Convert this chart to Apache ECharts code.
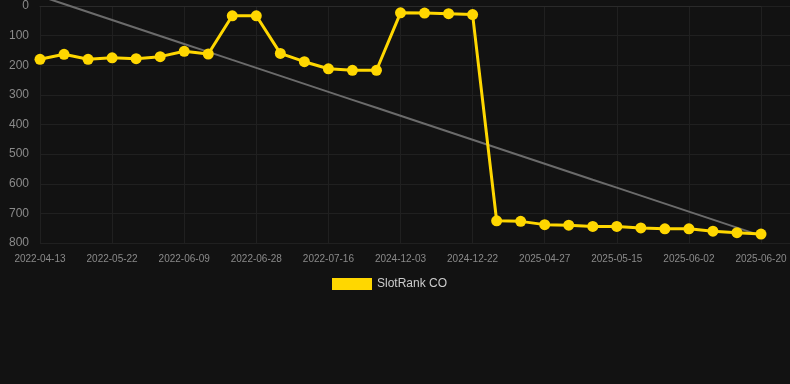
<!DOCTYPE html>
<html>
<head>
<meta charset="utf-8">
<script src="https://cdn.jsdelivr.net/npm/echarts@6/dist/echarts.min.js"></script>
<style>
html,body{margin:0;padding:0;background:#121212;}
#c{width:790px;height:384px;}
</style>
</head>
<body>
<div id="c"></div>
<script>
const categories = [
  '2022-04-13','2022-04-26','2022-05-09','2022-05-22','2022-05-28','2022-06-03',
  '2022-06-09','2022-06-15','2022-06-22','2022-06-28','2022-07-04','2022-07-10',
  '2022-07-16','2022-07-22','2022-07-28','2024-12-03','2024-12-09','2024-12-16',
  '2024-12-22','2025-04-15','2025-04-21','2025-04-27','2025-05-03','2025-05-09',
  '2025-05-15','2025-05-21','2025-05-27','2025-06-02','2025-06-08','2025-06-14',
  '2025-06-20'
];
const rankValues = [
  180,163,180,175,178,171,153,162,33,33,160,188,212,217,217,
  23,24,26,29,725,727,738,740,744,744,749,752,752,760,765,770
];
const seriesName = 'SlotRank CO';

// linear regression trend computed from the data
const n = rankValues.length;
let sx=0, sy=0, sxy=0, sxx=0;
rankValues.forEach((v,i)=>{sx+=i;sy+=v;sxy+=i*v;sxx+=i*i;});
const slope = (n*sxy - sx*sy)/(n*sxx - sx*sx);
const intercept = (sy - slope*sx)/n;
const trend = rankValues.map((v,i)=> +(intercept + slope*i).toFixed(2));

const font = 'Liberation Sans, Arial, sans-serif';
const chart = echarts.init(document.getElementById('c'));
chart.setOption({
  backgroundColor:'#121212',
  animation:false,
  grid:[
    {left:40,right:29,top:6,bottom:141,containLabel:false},
    {left:40,right:0,top:6,bottom:141,containLabel:false}
  ],
  legend:{
    data:[seriesName],
    top:273,
    left:327,
    icon:'rect',
    itemWidth:40,
    itemHeight:12,
    itemGap:10,
    textStyle:{color:'#cccccc',fontSize:12,fontFamily:font}
  },
  xAxis:[{
    type:'category',
    data:categories,
    boundaryGap:false,
    axisLine:{show:true,lineStyle:{color:'#2a2a2a'}},
    axisTick:{show:false},
    axisLabel:{interval:2,color:'#8a8a8a',fontSize:10,margin:11,fontFamily:font},
    splitLine:{show:true,interval:2,lineStyle:{color:'#202020',width:1}}
  },{
    gridIndex:1,
    type:'value',
    min:0,max:1,
    show:false,
    splitLine:{show:false}
  }],
  yAxis:[{
    type:'value',
    inverse:true,
    min:0,max:800,interval:100,
    axisLine:{show:false},
    axisTick:{show:false},
    axisLabel:{color:'#8a8a8a',fontSize:12,margin:11,fontFamily:font},
    splitLine:{show:false}
  },{
    gridIndex:1,
    type:'value',
    inverse:true,
    min:0,max:800,interval:100,
    axisLine:{show:false},
    axisTick:{show:false},
    axisLabel:{show:false},
    splitLine:{show:true,lineStyle:{color:'#202020',width:1}}
  }],
  series:[
    {
      name:'trend',
      type:'line',
      data:trend,
      clip:false,
      symbol:'none',
      silent:true,
      lineStyle:{color:'#6b6b6b',width:2},
      z:1
    },
    {
      name:seriesName,
      type:'line',
      data:rankValues,
      symbol:'circle',
      symbolSize:11,
      itemStyle:{color:'#FFD700'},
      lineStyle:{color:'#FFD700',width:3},
      z:3
    }
  ]
});
</script>
</body>
</html>
